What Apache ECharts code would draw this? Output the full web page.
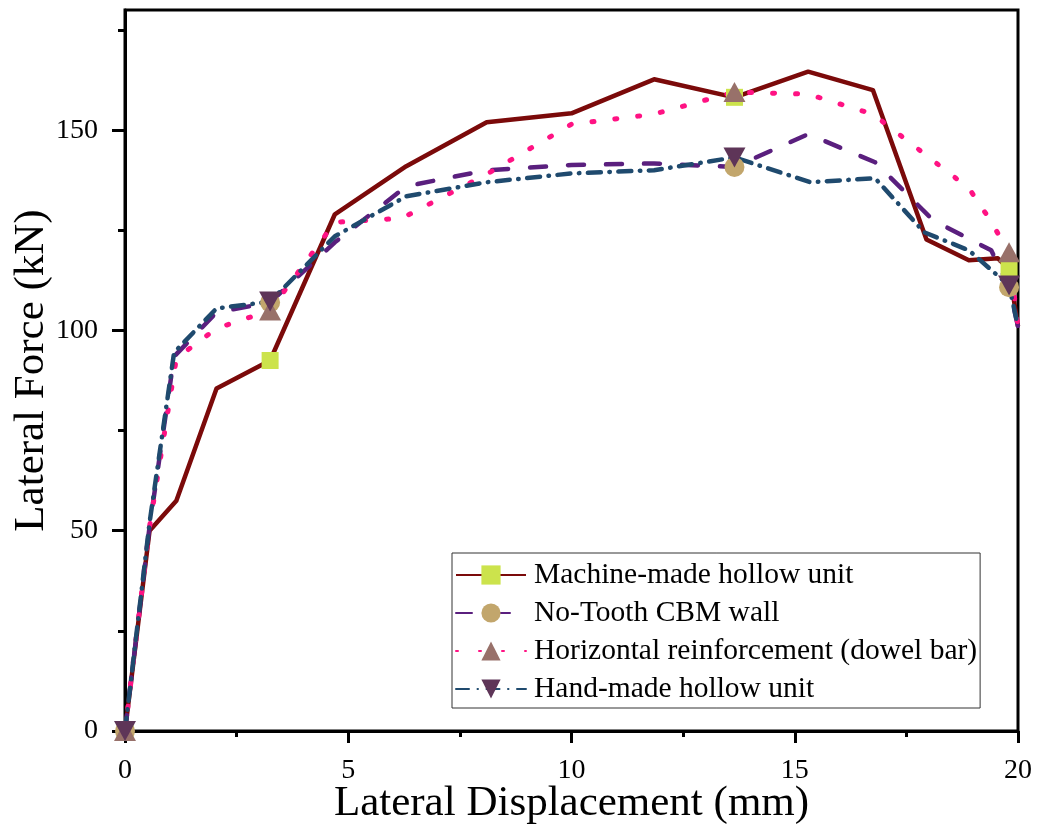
<!DOCTYPE html>
<html><head><meta charset="utf-8">
<script src="https://cdn.jsdelivr.net/npm/echarts@6/dist/echarts.min.js"></script>
<style>html,body{margin:0;padding:0;background:#fff}#c{width:1039px;height:825px}</style>
</head><body><div id="c"></div>
<script>
const seriesNames = ['Machine-made hollow unit', 'No-Tooth CBM wall', 'Horizontal reinforcement (dowel bar)', 'Hand-made hollow unit'];

const machineX = [0, 0.55, 1.15, 2.05, 3.25, 4.7, 6.3, 8.1, 10.0, 11.85, 13.65, 15.3, 16.75, 17.95, 18.9, 19.55, 19.8, 20];
const machineY = [0, 50, 57.5, 85.5, 92.5, 129, 141, 152, 154.2, 162.7, 158.2, 164.6, 160, 122.7, 117.5, 118, 115.3, 101];

const noToothX = [0, 0.55, 1.1, 2.05, 3.25, 4.7, 6.3, 8.1, 10.0, 11.85, 13.65, 15.3, 16.8, 18.1, 19.4, 19.8, 20];
const noToothY = [0, 51, 93.5, 104.5, 107, 122, 136, 140, 141.3, 141.7, 140.8, 149, 142, 127.5, 120, 110.8, 101];

const dowelX = [0, 0.55, 1.15, 2.05, 3.25, 4.7, 6.2, 8.1, 10.0, 11.85, 13.65, 15.3, 16.75, 18.9, 19.35, 19.8, 20];
const dowelY = [0, 51, 93, 100.5, 105, 127, 128, 139, 151.5, 154, 159.5, 159, 154, 135.5, 128, 119.5, 101];

const handX = [0, 0.55, 1.1, 2.05, 3.25, 4.7, 6.3, 8.1, 10.0, 11.85, 13.65, 15.35, 16.8, 17.9, 18.9, 19.8, 20];
const handY = [0, 52, 94.5, 105.5, 107.2, 123.5, 133.5, 137, 139.2, 140, 143.2, 137, 138, 124.5, 120, 111.2, 101];

const markerX = [0, 3.25, 13.65, 19.8];
const yMajorTicks = [0, 50, 100, 150];
const yMinorTicks = [25, 75, 125, 175];

const FONT = 'Liberation Serif';

function build(xs, ys) {
  return xs.map((x, i) => markerX.includes(x)
    ? { value: [x, ys[i]] }
    : { value: [x, ys[i]], symbol: 'none' });
}

const chart = echarts.init(document.getElementById('c'), null, { renderer: 'canvas' });

const series = [
  {
    name: seriesNames[0], type: 'line', data: build(machineX, machineY),
    symbol: 'rect', symbolSize: 17,
    itemStyle: { color: '#CCE34C' },
    lineStyle: { color: '#7B0A0A', width: 4.5, join: 'round' },
    clip: true
  },
  {
    name: seriesNames[1], type: 'line', data: build(noToothX, noToothY),
    symbol: 'circle', symbolSize: 20,
    itemStyle: { color: '#C2A66C' },
    lineStyle: { color: '#5A1F7E', width: 4.5, type: [16, 22], cap: 'round' },
    clip: true
  },
  {
    name: seriesNames[2], type: 'line', data: build(dowelX, dowelY),
    symbol: 'triangle', symbolSize: [22, 20],
    itemStyle: { color: '#98716A' },
    lineStyle: { color: '#FF1283', width: 5, type: [2, 21], cap: 'round' },
    clip: true
  },
  {
    name: seriesNames[3], type: 'line', data: build(handX, handY),
    symbol: 'path://M0,0 L10,0 L5,9 Z', symbolSize: [22, 20],
    itemStyle: { color: '#5E3558' },
    lineStyle: { color: '#1F4A6E', width: 4.5, type: [13, 8.5, 0.5, 8.5], cap: 'round' },
    clip: true
  }
];

const axisBlack = { color: '#000', width: 3 };

chart.setOption({
  animation: false,
  backgroundColor: '#fff',
  grid: {
    left: 125, right: 21, top: 10, bottom: 94,
    show: true, borderColor: '#000', borderWidth: 3,
    backgroundColor: 'transparent',
    containLabel: false, outerBoundsMode: 'none'
  },
  legend: {
    orient: 'vertical', left: 452, top: 553,
    padding: [7, 3, 4, 3],
    itemWidth: 70, itemHeight: 24, itemGap: 8,
    borderColor: '#333', borderWidth: 1,
    textStyle: { fontFamily: FONT, fontSize: 29.5, lineHeight: 29, color: '#000', padding: [0, 0, 0, 3] },
    data: seriesNames
  },
  xAxis: {
    type: 'value', min: 0, max: 20, interval: 5,
    axisLine: { show: true, onZero: false, lineStyle: axisBlack },
    axisTick: { show: true, inside: false, length: 12, lineStyle: axisBlack },
    minorTick: { show: true, splitNumber: 2, length: 6, lineStyle: axisBlack },
    splitLine: { show: false }, minorSplitLine: { show: false },
    axisLabel: { fontFamily: FONT, fontSize: 28, color: '#000', margin: 26 },
    name: 'Lateral Displacement (mm)', nameLocation: 'middle', nameGap: 51,
    nameMoveOverlap: false,
    nameTextStyle: { fontFamily: FONT, fontSize: 43, color: '#000' }
  },
  yAxis: [
    {
      type: 'value', min: 0, max: 180, position: 'left',
      axisLine: { show: true, onZero: false, lineStyle: axisBlack },
      axisTick: { show: true, inside: false, length: 13, lineStyle: axisBlack, customValues: yMajorTicks },
      splitLine: { show: false },
      axisLabel: { fontFamily: FONT, fontSize: 28, color: '#000', margin: 27, customValues: yMajorTicks },
      name: 'Lateral Force (kN)', nameLocation: 'middle', nameGap: 72,
      nameMoveOverlap: false,
      nameTextStyle: { fontFamily: FONT, fontSize: 43, color: '#000' }
    },
    {
      type: 'value', min: 0, max: 180, position: 'left',
      axisLine: { show: false },
      axisTick: { show: true, inside: false, length: 7, lineStyle: axisBlack, customValues: yMinorTicks },
      splitLine: { show: false },
      axisLabel: { show: false }
    }
  ],
  series: series
});
</script>
</body></html>
